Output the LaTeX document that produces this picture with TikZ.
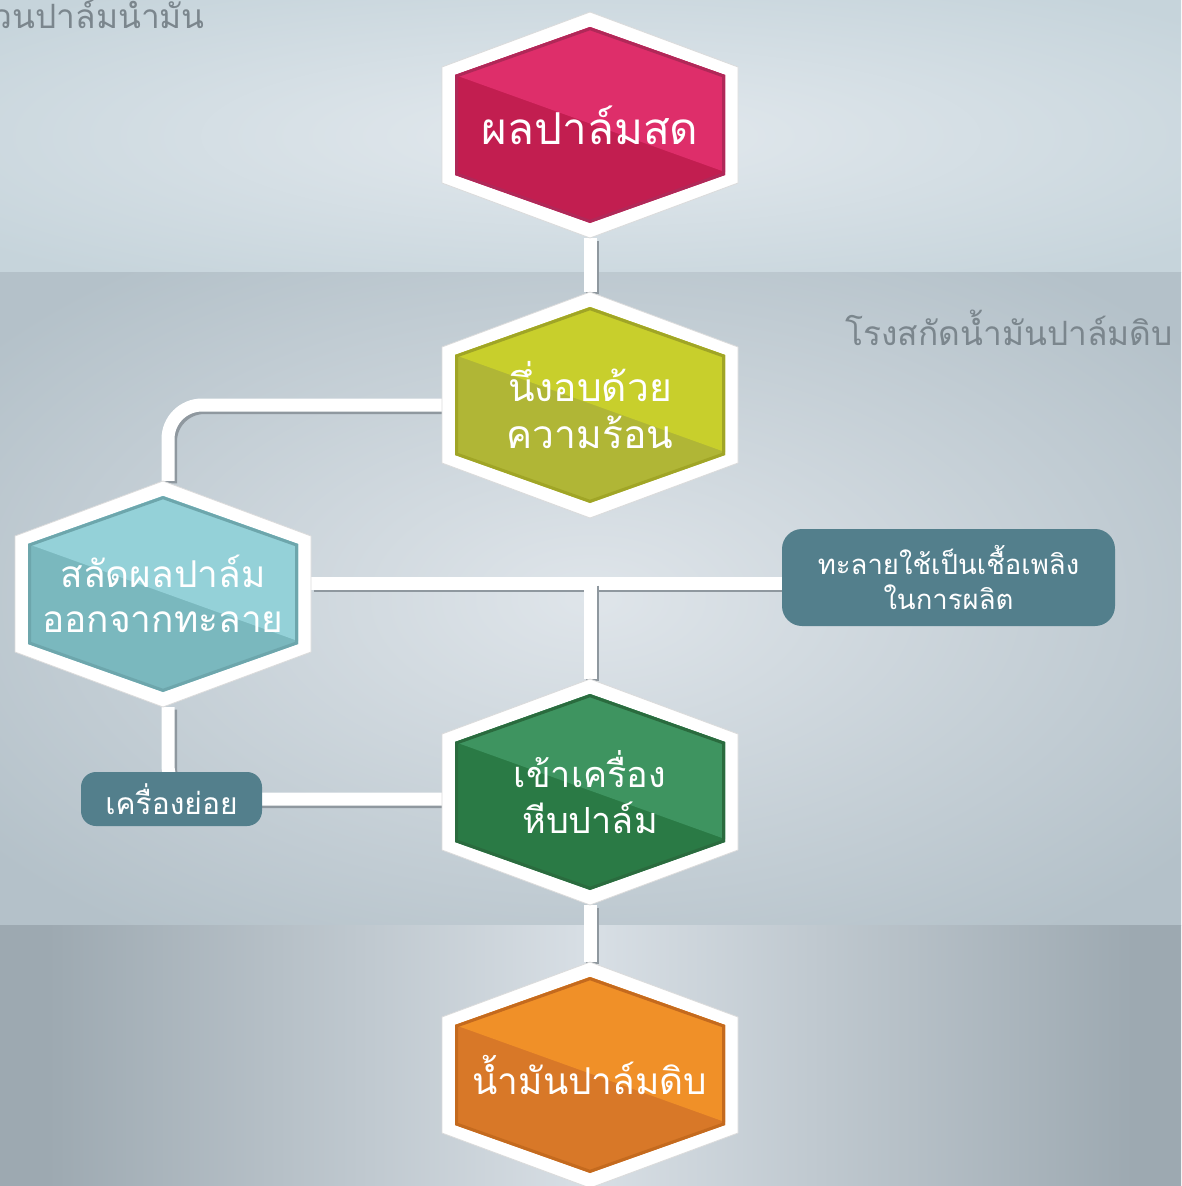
\documentclass[tikz,border=0pt]{standalone}
\usepackage{fontspec}
\newfontfamily\thai[Script=Thai]{Loma}
\usetikzlibrary{calc}
\definecolor{pinkL}{HTML}{DE2E6A}
\definecolor{pinkD}{HTML}{C21E50}
\definecolor{pinkE}{HTML}{B02858}
\definecolor{limeL}{HTML}{C8CF2C}
\definecolor{limeD}{HTML}{B0B636}
\definecolor{limeE}{HTML}{A0A526}
\definecolor{tealL}{HTML}{94D1D8}
\definecolor{tealD}{HTML}{7AB8BE}
\definecolor{tealE}{HTML}{6DA6AC}
\definecolor{grnL}{HTML}{3E9460}
\definecolor{grnD}{HTML}{2A7A45}
\definecolor{grnE}{HTML}{2A6B3E}
\definecolor{orgL}{HTML}{F09028}
\definecolor{orgD}{HTML}{D87828}
\definecolor{orgE}{HTML}{C46A1E}
\definecolor{boxc}{HTML}{537F8C}
\definecolor{labelc}{HTML}{7B868D}
\definecolor{shadowc}{HTML}{8F989F}
\definecolor{topIn}{HTML}{E3E9EE}
\definecolor{topOut}{HTML}{C6D4DB}
\definecolor{midIn}{HTML}{DFE5EA}
\definecolor{midOut}{HTML}{B4C1C9}
\definecolor{botIn}{HTML}{D8DFE5}
\definecolor{botOut}{HTML}{9DA9B1}
\pgfdeclareradialshading{topglow}{\pgfpoint{0bp}{0bp}}{color(0bp)=(topIn); color(33bp)=(topOut); color(60bp)=(topOut)}
\pgfdeclareradialshading{midglow}{\pgfpoint{0bp}{0bp}}{color(0bp)=(midIn); color(32bp)=(midOut); color(60bp)=(midOut)}
\pgfdeclarehorizontalshading{botglow}{100bp}{color(0bp)=(botOut); color(27bp)=(botOut); color(50bp)=(botIn); color(73bp)=(botOut); color(100bp)=(botOut)}
\pgfdeclarelayer{bg}
\pgfdeclarelayer{conn}
\pgfsetlayers{bg,conn,main}
\newcommand\hexshape[5]{%
  \begin{scope}[shift={(#1,#2)}]
    \fill[white, draw=black!14, line width=0.8pt] (0,-113) -- (148,-58) -- (148,58) -- (0,113) -- (-148,58) -- (-148,-58) -- cycle;
    \fill[#4] (0,-98) -- (135,-50) -- (135,50) -- (0,98) -- (-135,50) -- (-135,-50) -- cycle;
    \fill[#3] (-135,-50) -- (0,-98) -- (135,-50) -- (135,47) -- cycle;
    \draw[#5, line width=3pt, line join=miter] (0,-96.3) -- (133.5,-49) -- (133.5,49) -- (0,96.3) -- (-133.5,49) -- (-133.5,-49) -- cycle;
  \end{scope}}
\newcommand\connect[1]{%
  \draw[shadowc, line width=13pt, rounded corners=34pt, transform canvas={shift={(2.5pt,-2.5pt)}}] #1;
  \draw[white, line width=13pt, rounded corners=34pt] #1;}
\begin{document}
\begin{tikzpicture}[x=1pt,y=-1pt,
  hexnode/.style={minimum width=296pt, minimum height=226pt, inner sep=0pt, text=white, align=center},
  boxnode/.style={fill=boxc, rounded corners=#1, inner sep=0pt, text=white, align=center},
  lbl/.style={text=labelc, inner sep=0pt, font=\thai\fontsize{33.5}{38}\selectfont}]
\useasboundingbox (0,0) rectangle (1181,1186);
\begin{pgfonlayer}{bg}
  \clip (0,0) rectangle (1181,1186);
  \shade[shading=topglow] (0,0) rectangle (1181,272);
  \shade[shading=midglow] (0,272) rectangle (1181,925);
  \shade[shading=botglow] (0,925) rectangle (1181,1186);
  \node[lbl, anchor=base east] (lab1) at (205,28) {สวนปาล์มน้ำมัน};
  \node[lbl, anchor=base east] (lab2) at (1173,345) {โรงสกัดน้ำมันปาล์มดิบ};
\end{pgfonlayer}

\hexshape{590}{125}{pinkL}{pinkD}{pinkE}
\hexshape{590}{405}{limeL}{limeD}{limeE}
\hexshape{163}{594}{tealL}{tealD}{tealE}
\hexshape{590}{792}{grnL}{grnD}{grnE}
\hexshape{590}{1075}{orgL}{orgD}{orgE}

\node[hexnode, font=\thai\fontsize{44}{50}\selectfont] (h1) at (590,125) {ผลปาล์มสด};
\node[hexnode, font=\thai\fontsize{39}{47}\selectfont] (h2) at (590,405) {นึ่งอบด้วย\\ความร้อน};
\node[hexnode, font=\thai\fontsize{37}{45}\selectfont] (h3) at (163,594) {สลัดผลปาล์ม\\ออกจากทะลาย};
\node[hexnode, font=\thai\fontsize{36}{46}\selectfont] (h4) at (590,792) {เข้าเครื่อง\\หีบปาล์ม};
\node[hexnode, font=\thai\fontsize{37}{46}\selectfont] (h5) at (590,1075) {น้ำมันปาล์มดิบ};

\node[boxnode=15pt, minimum width=181pt, minimum height=54pt, font=\thai\fontsize{30}{34}\selectfont] (box1) at (171.5,799) {เครื่องย่อย};
\node[boxnode=20pt, minimum width=333pt, minimum height=97pt, font=\thai\fontsize{27.5}{35}\selectfont] (box2) at (948.5,577.5) {ทะลายใช้เป็นเชื้อเพลิง\\ในการผลิต};

\coordinate (j) at (590,583);
\begin{pgfonlayer}{conn}
  \connect{(h1.south) -- (h2.north)}
  \connect{(h2.west) -| ([xshift=5pt]h3.north)}
  \connect{(h3.east |- j) -- (box2.west |- j)}
  \connect{(j) -- (h4.north)}
  \connect{([xshift=5pt]h3.south) |- (h4.west |- box1.east)}
  \connect{(h4.south) -- (h5.north)}
\end{pgfonlayer}
\end{tikzpicture}
\end{document}
